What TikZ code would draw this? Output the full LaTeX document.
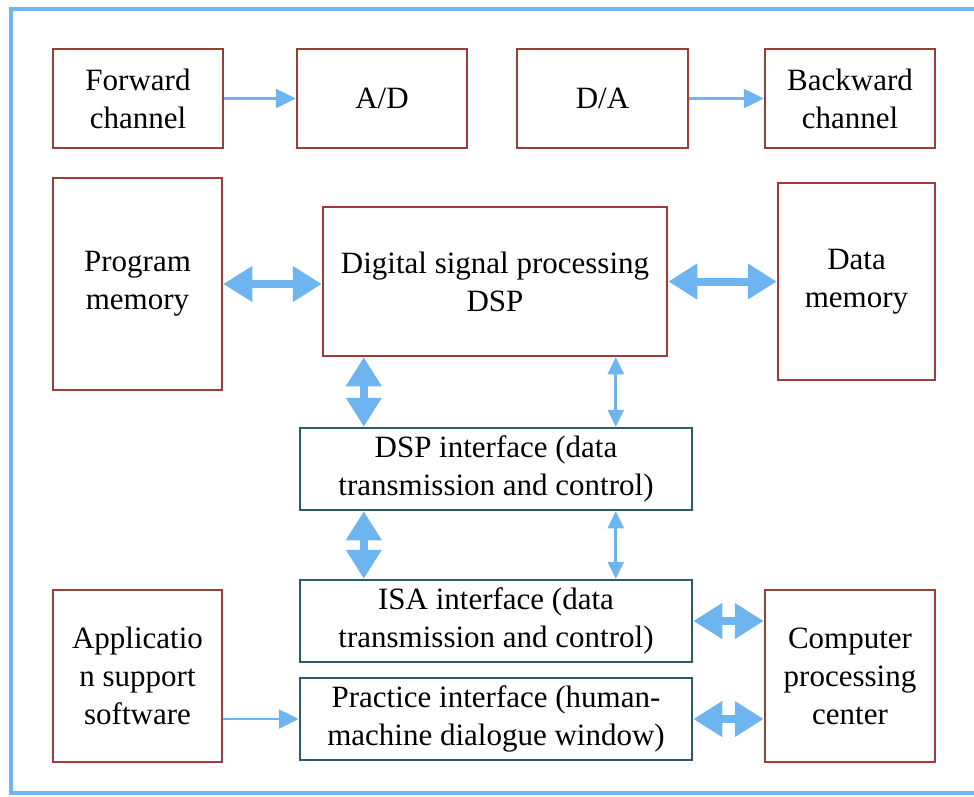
\documentclass[tikz,border=0pt]{standalone}
\usepackage{fontspec}
\setmainfont{Liberation Serif}
\usetikzlibrary{arrows.meta}
\definecolor{frameblue}{HTML}{70B5F0}
\definecolor{arrblue}{HTML}{6EB4F0}
\definecolor{redb}{HTML}{A03C37}
\definecolor{tealb}{HTML}{2C5C6A}
\tikzset{
  rbox/.style={draw=redb, line width=2.5pt, fill=white, align=center, inner sep=0pt,
    font=\fontsize{31}{38}\selectfont},
  tbox/.style={draw=tealb, line width=2.5pt, fill=white, align=center, inner sep=0pt,
    font=\fontsize{31}{38}\selectfont},
  thinarrow/.style={draw=arrblue, line width=2.6pt, -{Triangle[length=20pt,width=19pt]}},
  thindouble/.style={draw=arrblue, line width=2.6pt, {Triangle[length=17pt,width=16pt]}-{Triangle[length=17pt,width=16pt]}},
  thickdouble/.style={draw=arrblue, line width=8pt, {Triangle[length=29pt,width=34pt]}-{Triangle[length=29pt,width=34pt]}},
}
\begin{document}
\begin{tikzpicture}[x=1pt,y=-1pt]
\useasboundingbox (0,0) rectangle (974,796);
\draw[frameblue, line width=4pt] (990,9) -- (11,9) -- (11,793) -- (990,793);

\node[rbox, minimum width=170pt, minimum height=99pt] (fwd) at (138,98.5) {Forward\\channel};
\node[rbox, minimum width=170pt, minimum height=99pt] (ad) at (382,98.5) {A/D};
\node[rbox, minimum width=171pt, minimum height=99pt] (da) at (602.5,98.5) {D/A};
\node[rbox, minimum width=170pt, minimum height=99pt] (bwd) at (850,98.5) {Backward\\channel};

\node[rbox, minimum width=169pt, minimum height=212pt] (pm) at (137.5,284) {Program\\memory};
\node[rbox, minimum width=344pt, minimum height=149pt] (dsp) at (495,281.5) {Digital signal processing\\DSP};
\node[rbox, minimum width=157pt, minimum height=197pt] (dm) at (856.5,281.5) {Data\\memory};

\node[tbox, minimum width=392pt, minimum height=82pt] (dspi) at (496,469) {DSP interface (data\\transmission and control)};
\node[tbox, minimum width=392pt, minimum height=82pt] (isa) at (496,621) {ISA interface (data\\transmission and control)};
\node[tbox, minimum width=392pt, minimum height=82pt] (prac) at (496,719) {Practice interface (human-\\machine dialogue window)};

\node[rbox, minimum width=169pt, minimum height=172pt] (app) at (137.5,676) {Applicatio\\n support\\software};
\node[rbox, minimum width=170pt, minimum height=172pt] (cpc) at (850,676) {Computer\\processing\\center};

\draw[thinarrow] (fwd.east) -- (ad.west);
\draw[thinarrow] (da.east) -- (bwd.west);

\draw[thickdouble] (pm.east) -- (pm.east -| dsp.west);
\draw[thickdouble] (dsp.east) -- (dm.west);

\draw[thickdouble] ([xshift=65pt]dspi.north west) -- ([xshift=65pt]dspi.north west |- dsp.south);
\draw[thindouble] ([xshift=317pt]dspi.north west) -- ([xshift=317pt]dspi.north west |- dsp.south);

\draw[thickdouble] ([xshift=65pt]isa.north west) -- ([xshift=65pt]isa.north west |- dspi.south);
\draw[thindouble] ([xshift=317pt]isa.north west) -- ([xshift=317pt]isa.north west |- dspi.south);

\draw[thickdouble] (isa.east) -- (isa.east -| cpc.west);
\draw[thickdouble] (prac.east) -- (prac.east -| cpc.west);

\draw[thinarrow] (prac.west -| app.east) -- (prac.west);
\end{tikzpicture}
\end{document}
